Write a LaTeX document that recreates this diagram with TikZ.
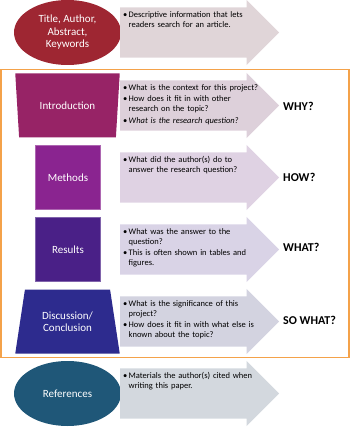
\documentclass[tikz,border=0pt]{standalone}
\usepackage{fontspec}
\setmainfont{Carlito}
\usetikzlibrary{positioning,shapes.geometric,shapes.arrows}
\definecolor{titlered}{HTML}{9E2632}
\definecolor{intropink}{HTML}{972366}
\definecolor{methpurple}{HTML}{8A2490}
\definecolor{respurple}{HTML}{4A2087}
\definecolor{discblue}{HTML}{2D2B8E}
\definecolor{refteal}{HTML}{1F5778}
\definecolor{framecol}{HTML}{F4A24A}
\newcommand{\bitem}[1]{\par\hangindent=5.5pt\hangafter=1\noindent\makebox[5.5pt][l]{\textbullet}#1\par\vspace{1.5pt}}
\tikzset{
  part/.style={text=white,font=\fontsize{11}{12.5}\selectfont,align=center,inner sep=0pt},
  partbox/.style={part,rectangle,minimum width=65pt,minimum height=64pt},
  funnel/.style={part,trapezium,trapezium stretches=true,trapezium angle=74,
    minimum width=105pt,minimum height=64pt},
  oval/.style={part,ellipse,minimum width=107pt,minimum height=65pt},
  pointer/.style={single arrow,single arrow head extend=7.5pt,minimum height=159pt,
    minimum width=65pt,inner sep=0pt,text height=25pt,text depth=25pt,anchor=west},
  bullets/.style={anchor=north west,text width=150pt,align=left,inner sep=0pt,
    font=\fontsize{8.5}{10}\selectfont,xshift=3pt,yshift=25.5pt},
  ask/.style={anchor=west,inner sep=0pt,font=\fontsize{12}{14}\selectfont\bfseries},
}

\begin{document}
\begin{tikzpicture}[x=1pt,y=-1pt]
\useasboundingbox (0,0) rectangle (350,427);
\draw[framecol,line width=1.2pt] (1,69.5) rectangle (349,357.5);

\node[oval,fill=titlered] (title) at (67.5,32.5) {Title, Author,\\Abstract,\\Keywords};
\node[pointer,fill={rgb,255:red,224;green,213;blue,216}] (title-arr) at (120,32.5) {};
\node[bullets] (title-txt) at (title-arr.west)
  {\bitem{Descriptive information that lets\newline readers search for an article.}};

\node[funnel,shape border rotate=180,fill=intropink] (intro) at (67.5,105.5) {Introduction};
\node[pointer,fill={rgb,255:red,221;green,208;blue,218}] (intro-arr) at (120,105.5) {};
\node[bullets] (intro-txt) at (intro-arr.west)
  {\bitem{What is the context for this project?}
   \bitem{How does it fit in with other\newline research on the topic?}
   \bitem{\textit{What is the research question?}}};
\node[ask] (why) at (283,106.5) {WHY?};

\node[partbox,fill=methpurple,draw=methpurple!70!white,line width=0.6pt] (meth) at (68,177.5) {Methods};
\node[pointer,fill={rgb,255:red,223;green,210;blue,227}] (meth-arr) at (120,177.5) {};
\node[bullets] (meth-txt) at (meth-arr.west)
  {\bitem{What did the author(s) do to\newline answer the research question?}};
\node[ask] (how) at (283,177.5) {HOW?};

\node[partbox,fill=respurple,draw=respurple!70!white,line width=0.6pt] (res) at (68,249.5) {Results};
\node[pointer,fill={rgb,255:red,217;green,211;blue,230}] (res-arr) at (120,249.5) {};
\node[bullets] (res-txt) at (res-arr.west)
  {\bitem{What was the answer to the\newline question?}
   \bitem{This is often shown in tables and\newline figures.}};
\node[ask] (what) at (283,247.5) {WHAT?};

\node[funnel,fill=discblue] (disc) at (67.5,321.5) {Discussion/\\Conclusion};
\node[pointer,fill={rgb,255:red,211;green,211;blue,224}] (disc-arr) at (120,321.5) {};
\node[bullets] (disc-txt) at (disc-arr.west)
  {\bitem{What is the significance of this\newline project?}
   \bitem{How does it fit in with what else is\newline known about the topic?}};
\node[ask] (sowhat) at (283,320.5) {SO WHAT?};

\node[oval,fill=refteal] (refs) at (67.5,393.5) {References};
\node[pointer,fill={rgb,255:red,211;green,216;blue,222}] (refs-arr) at (120,393.5) {};
\node[bullets] (refs-txt) at (refs-arr.west)
  {\bitem{Materials the author(s) cited when\newline writing this paper.}};
\end{tikzpicture}
\end{document}
